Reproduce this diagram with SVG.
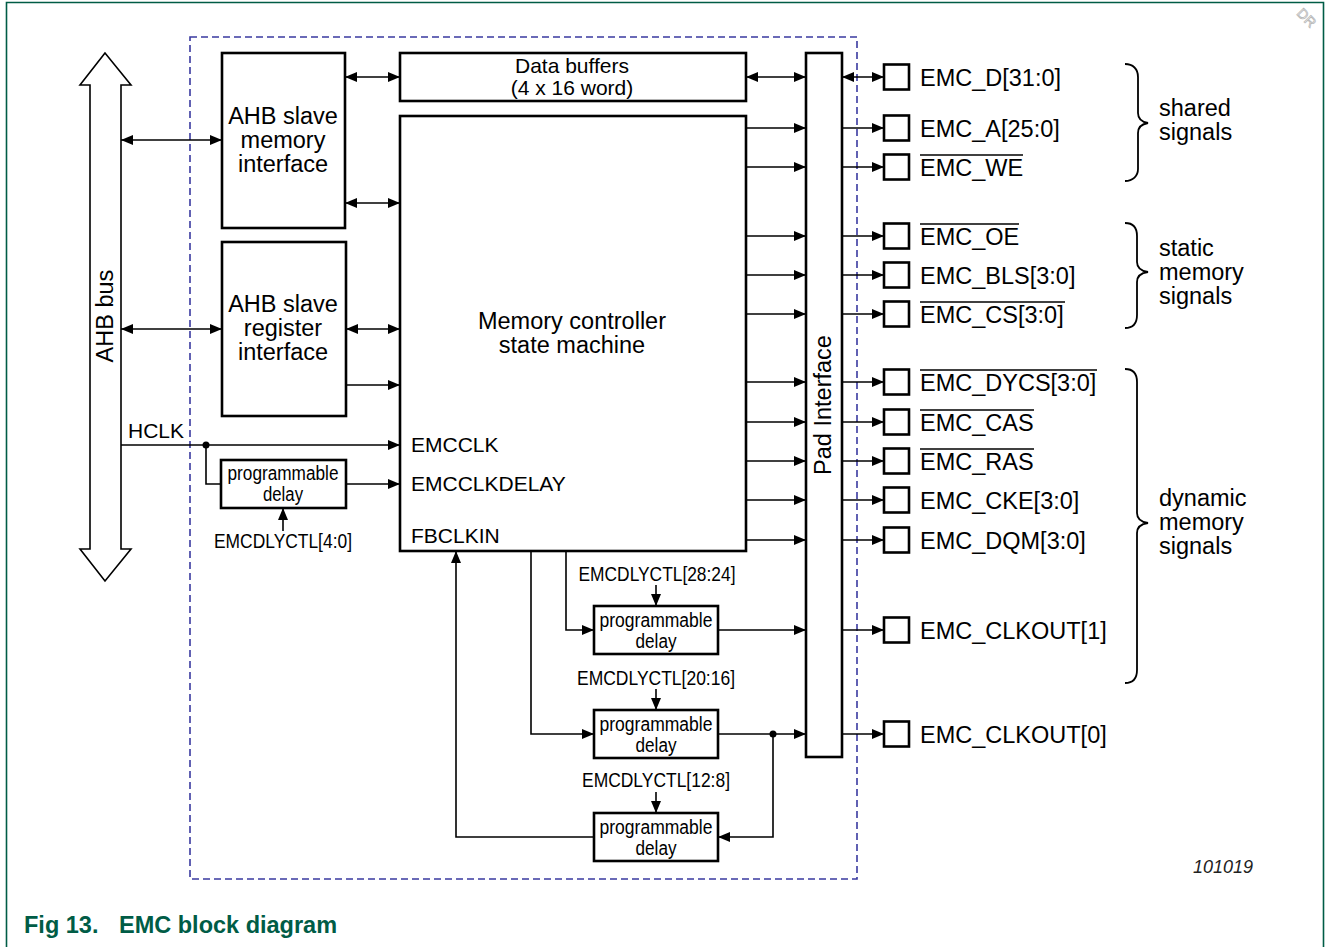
<svg xmlns="http://www.w3.org/2000/svg" width="1328" height="947" viewBox="0 0 1328 947">
<style>
text{font-family:"Liberation Sans",Arial,sans-serif;fill:#000}
.t{font-size:23.5px}
.m{font-size:21px}
.n{font-size:20px}
.c{text-anchor:middle}
.box{fill:#fff;stroke:#000;stroke-width:2.6}
.w{fill:none;stroke:#000;stroke-width:1.6}
.wa{fill:none;stroke:#000;stroke-width:1.6;marker-end:url(#a)}
.wb{fill:none;stroke:#000;stroke-width:1.6;marker-end:url(#a);marker-start:url(#a)}
.ol{stroke:#000;stroke-width:1.6}
.br{fill:none;stroke:#000;stroke-width:1.8}
</style>
<defs>
<marker id="a" viewBox="0 0 12 10" refX="12" refY="5" markerWidth="12" markerHeight="10" markerUnits="userSpaceOnUse" orient="auto-start-reverse"><path d="M0,0L12,5L0,10z" fill="#000"/></marker>
</defs>
<rect width="1328" height="947" fill="#fff"/>
<path d="M6.5,960 V2.5 H1323.5 V960" fill="none" stroke="#005c46" stroke-width="1.6"/>
<text x="1296" y="14" transform="rotate(45 1296 14)" style="font-size:14px;fill:none;stroke:#b8b8b8;stroke-width:0.8">DR</text>
<rect x="190" y="37" width="667" height="842" fill="none" stroke="#3a3aa0" stroke-width="1.6" stroke-dasharray="7,4"/>

<g id="ahb-bus">
<polygon points="105,53 80,85 90,85 90,549 80,549 105,581 131,549 121,549 121,85 131,85" fill="#fff" stroke="#000" stroke-width="1.6"/>
<text class="t c" transform="translate(113,316) rotate(-90)">AHB bus</text>
</g>
<g id="ahb-mem-if">
<rect class="box" x="222" y="53" width="123" height="175"/>
<text class="t c" x="283" y="124">AHB slave</text>
<text class="t c" x="283" y="148">memory</text>
<text class="t c" x="283" y="172">interface</text>
</g>
<g id="ahb-reg-if">
<rect class="box" x="222" y="242" width="124" height="174"/>
<text class="t c" x="283" y="312">AHB slave</text>
<text class="t c" x="283" y="336">register</text>
<text class="t c" x="283" y="360">interface</text>
</g>
<g id="data-buffers">
<rect class="box" x="400" y="53" width="346" height="48"/>
<text class="m c" x="572" y="73">Data buffers</text>
<text class="m c" x="572" y="95">(4 x 16 word)</text>
</g>
<g id="state-machine">
<rect class="box" x="400" y="116" width="346" height="435"/>
<text class="t c" x="572" y="329">Memory controller</text>
<text class="t c" x="572" y="353">state machine</text>
<text class="m" x="411" y="452">EMCCLK</text>
<text class="m" x="411" y="491">EMCCLKDELAY</text>
<text class="m" x="411" y="543">FBCLKIN</text>
</g>
<g id="pad-interface">
<rect class="box" x="806" y="53" width="36" height="704"/>
<text class="t c" transform="translate(831,405) rotate(-90)">Pad Interface</text>
</g>
<g id="delay-a">
<rect class="box" x="221" y="460" width="125" height="48"/>
<text class="n c" x="283" y="480" textLength="111" lengthAdjust="spacingAndGlyphs">programmable</text>
<text class="n c" x="283" y="501" textLength="40" lengthAdjust="spacingAndGlyphs">delay</text>
<text class="n c" x="283" y="548" textLength="138" lengthAdjust="spacingAndGlyphs">EMCDLYCTL[4:0]</text>
</g>
<g id="delay-b">
<rect class="box" x="594" y="606" width="124" height="48"/>
<text class="n c" x="656" y="627" textLength="113" lengthAdjust="spacingAndGlyphs">programmable</text>
<text class="n c" x="656" y="648" textLength="41" lengthAdjust="spacingAndGlyphs">delay</text>
<text class="n c" x="657" y="581" textLength="157" lengthAdjust="spacingAndGlyphs">EMCDLYCTL[28:24]</text>
</g>
<g id="delay-c">
<rect class="box" x="594" y="710" width="124" height="48"/>
<text class="n c" x="656" y="731" textLength="113" lengthAdjust="spacingAndGlyphs">programmable</text>
<text class="n c" x="656" y="752" textLength="41" lengthAdjust="spacingAndGlyphs">delay</text>
<text class="n c" x="656" y="685" textLength="158" lengthAdjust="spacingAndGlyphs">EMCDLYCTL[20:16]</text>
</g>
<g id="delay-d">
<rect class="box" x="594" y="813" width="124" height="48"/>
<text class="n c" x="656" y="834" textLength="113" lengthAdjust="spacingAndGlyphs">programmable</text>
<text class="n c" x="656" y="855" textLength="41" lengthAdjust="spacingAndGlyphs">delay</text>
<text class="n c" x="656" y="787" textLength="148" lengthAdjust="spacingAndGlyphs">EMCDLYCTL[12:8]</text>
</g>

<g id="pins">
<g class="box">
<rect x="884" y="64.5" width="25" height="25"/>
<rect x="884" y="115.5" width="25" height="25"/>
<rect x="884" y="154.5" width="25" height="25"/>
<rect x="884" y="223.5" width="25" height="25"/>
<rect x="884" y="262.5" width="25" height="25"/>
<rect x="884" y="301.5" width="25" height="25"/>
<rect x="884" y="369.5" width="25" height="25"/>
<rect x="884" y="409.5" width="25" height="25"/>
<rect x="884" y="448.5" width="25" height="25"/>
<rect x="884" y="487.5" width="25" height="25"/>
<rect x="884" y="527.5" width="25" height="25"/>
<rect x="884" y="617.5" width="25" height="25"/>
<rect x="884" y="721.5" width="25" height="25"/>
</g>
<text class="t" x="920" y="85.5">EMC_D[31:0]</text>
<text class="t" x="920" y="136.5">EMC_A[25:0]</text>
<text class="t" x="920" y="175.5">EMC_WE</text>
<text class="t" x="920" y="244.5">EMC_OE</text>
<text class="t" x="920" y="283.5">EMC_BLS[3:0]</text>
<text class="t" x="920" y="322.5">EMC_CS[3:0]</text>
<text class="t" x="920" y="390.5">EMC_DYCS[3:0]</text>
<text class="t" x="920" y="430.5">EMC_CAS</text>
<text class="t" x="920" y="469.5">EMC_RAS</text>
<text class="t" x="920" y="508.5">EMC_CKE[3:0]</text>
<text class="t" x="920" y="548.5">EMC_DQM[3:0]</text>
<text class="t" x="920" y="638.5">EMC_CLKOUT[1]</text>
<text class="t" x="920" y="742.5">EMC_CLKOUT[0]</text>
<line class="ol" x1="920" y1="155" x2="1023" y2="155"/>
<line class="ol" x1="920" y1="224" x2="1019" y2="224"/>
<line class="ol" x1="920" y1="302" x2="1065" y2="302"/>
<line class="ol" x1="920" y1="370" x2="1097" y2="370"/>
<line class="ol" x1="920" y1="410" x2="1034" y2="410"/>
<line class="ol" x1="920" y1="449" x2="1034" y2="449"/>
</g>

<g id="groups">
<path class="br" d="M1125,64 C1133,64 1138,69 1138,77 L1138,113 C1138,119 1142,122 1148,123 C1142,124 1138,127 1138,133 L1138,169 C1138,176 1133,181 1125,181"/>
<path class="br" d="M1125,223 C1133,223 1137,228 1137,236 L1137,262 C1137,268 1141,271 1148,272 C1141,273 1137,276 1137,282 L1137,315 C1137,323 1133,328 1125,328"/>
<path class="br" d="M1125,369 C1133,369 1137,374 1137,382 L1137,513 C1137,519 1141,522 1148,523 C1141,524 1137,527 1137,533 L1137,670 C1137,678 1133,683 1125,683"/>
<text class="t" x="1159" y="116">shared</text>
<text class="t" x="1159" y="140">signals</text>
<text class="t" x="1159" y="256">static</text>
<text class="t" x="1159" y="280">memory</text>
<text class="t" x="1159" y="304">signals</text>
<text class="t" x="1159" y="506">dynamic</text>
<text class="t" x="1159" y="530">memory</text>
<text class="t" x="1159" y="554">signals</text>
</g>

<g id="connectors">
<text class="m" x="128" y="438">HCLK</text>
<path class="wb" d="M121,140H222"/>
<path class="wb" d="M345,77H400"/>
<path class="wb" d="M345,203H400"/>
<path class="wb" d="M121,329H222"/>
<path class="wb" d="M346,329H400"/>
<path class="wa" d="M346,385H400"/>
<path class="wa" d="M121,445H400"/>
<path class="w" d="M206,445V484H221"/>
<circle cx="206" cy="445" r="3.5" fill="#000"/>
<path class="wa" d="M346,484H400"/>
<path class="wa" d="M283,531V508"/>
<path class="wb" d="M746,77H806"/>
<path class="wa" d="M746,128H806"/>
<path class="wa" d="M746,167H806"/>
<path class="wa" d="M746,236H806"/>
<path class="wa" d="M746,275H806"/>
<path class="wa" d="M746,314H806"/>
<path class="wa" d="M746,382H806"/>
<path class="wa" d="M746,422H806"/>
<path class="wa" d="M746,461H806"/>
<path class="wa" d="M746,500H806"/>
<path class="wa" d="M746,540H806"/>
<path class="wb" d="M842,77H884"/>
<path class="wa" d="M842,128H884"/>
<path class="wa" d="M842,167H884"/>
<path class="wa" d="M842,236H884"/>
<path class="wa" d="M842,275H884"/>
<path class="wa" d="M842,314H884"/>
<path class="wa" d="M842,382H884"/>
<path class="wa" d="M842,422H884"/>
<path class="wa" d="M842,461H884"/>
<path class="wa" d="M842,500H884"/>
<path class="wa" d="M842,540H884"/>
<path class="wa" d="M842,630H884"/>
<path class="wa" d="M842,734H884"/>
<path class="wa" d="M566,551V630H594"/>
<path class="wa" d="M531,551V734H594"/>
<path class="wa" d="M718,630H806"/>
<path class="wa" d="M718,734H806"/>
<path class="wa" d="M773,734V837H718"/>
<circle cx="773" cy="734" r="3.5" fill="#000"/>
<path class="wa" d="M594,837H456V551"/>
<path class="wa" d="M656,585V606"/>
<path class="wa" d="M656,689V710"/>
<path class="wa" d="M656,792V813"/>
</g>

<text x="1253" y="873" style="font-size:18px;font-style:italic;text-anchor:end;fill:#222">101019</text>
<text x="24" y="933" style="font-size:23.5px;font-weight:bold;fill:#005c46">Fig 13.</text>
<text x="119" y="933" style="font-size:23.5px;font-weight:bold;fill:#005c46">EMC block diagram</text>
</svg>
